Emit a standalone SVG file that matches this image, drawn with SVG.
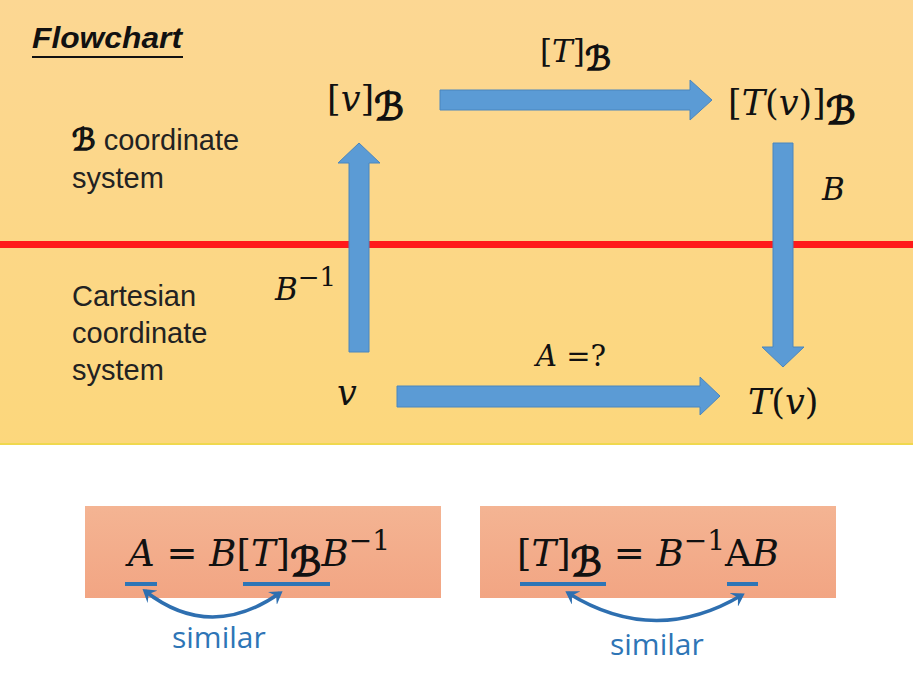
<svg xmlns="http://www.w3.org/2000/svg" width="913" height="686" viewBox="0 0 913 686">
<defs>
<linearGradient id="bg" x1="0" y1="0" x2="0" y2="1">
<stop offset="0" stop-color="#FCD793"/>
<stop offset="1" stop-color="#FCD77C"/>
</linearGradient>
<linearGradient id="box" x1="0" y1="0" x2="0" y2="1">
<stop offset="0" stop-color="#F4B493"/>
<stop offset="1" stop-color="#F2A583"/>
</linearGradient>
<marker id="ah" viewBox="0 0 10 10" refX="6" refY="5" markerWidth="4.5" markerHeight="4.5" orient="auto-start-reverse">
<path d="M0,0 L8,5 L0,10 L3,5 Z" fill="#2E6FB0"/>
</marker>
<style>
.lbl{font-family:"Liberation Sans",Arial,sans-serif;font-size:29px;fill:#222}
.m{font-family:"DejaVu Serif","Liberation Serif",serif;fill:#111}
.mi{font-style:italic}
.scr{font-family:"DejaVu Sans","DejaVu Serif",serif;font-style:italic;stroke:#111;stroke-width:1.5}
.arr{fill:#5B9BD5;stroke:#4A86BE;stroke-width:1}
.sim{font-family:"Open Sans","Liberation Sans",sans-serif;font-size:30px;fill:#2E75B6}
.ul{stroke:#2E75B6;stroke-width:4}
.cv{fill:none;stroke:#2E6FB0;stroke-width:3.5}
</style>
</defs>
<rect x="0" y="0" width="913" height="445" fill="url(#bg)"/>
<rect x="0" y="443" width="913" height="2" fill="#F0D84E"/>
<rect x="0" y="445" width="913" height="241" fill="#FFFFFF"/>
<rect x="0" y="241" width="913" height="7" fill="#FF1A1A"/>

<g id="title">
<text x="32" y="48" font-family="'Liberation Sans',Arial,sans-serif" font-size="29" font-weight="bold" font-style="italic" fill="#111" textLength="150" lengthAdjust="spacingAndGlyphs">Flowchart</text>
<rect x="32" y="56" width="151" height="2" fill="#111"/>
</g>
<g id="label-bcoord">
<text class="lbl" x="72" y="150"><tspan class="scr" font-size="30">ℬ</tspan> coordinate</text>
<text class="lbl" x="72" y="188">system</text>
</g>
<g id="label-cart">
<text class="lbl" x="72" y="306">Cartesian</text>
<text class="lbl" x="72" y="343">coordinate</text>
<text class="lbl" x="72" y="380">system</text>
</g>

<g id="connectors">
<polygon class="arr" points="349,352 349,163 338,163 359,143 380,163 369,163 369,352"/>
<polygon class="arr" points="440,90 690,90 690,80 712,100 690,120 690,110 440,110"/>
<polygon class="arr" points="773,143 793,143 793,347 804,347 783,367 762,347 773,347"/>
<polygon class="arr" points="397,386 700,386 700,377 720,396 700,415 700,407 397,407"/>
</g>

<g id="node-vB">
<text class="m" x="327" y="111" font-size="35">[<tspan class="mi">v</tspan>]<tspan class="scr" font-size="38" dy="9">ℬ</tspan></text>
</g>
<g id="node-TvB">
<text class="m" x="728" y="115" font-size="35">[<tspan class="mi">T</tspan>(<tspan class="mi">v</tspan>)]<tspan class="scr" font-size="38" dy="9">ℬ</tspan></text>
</g>
<g id="node-v">
<text class="m mi" x="337" y="405" font-size="35">v</text>
</g>
<g id="node-Tv">
<text class="m" x="748" y="414" font-size="35"><tspan class="mi">T</tspan>(<tspan class="mi">v</tspan>)</text>
</g>
<g id="label-TB">
<text class="m" x="540" y="62" font-size="31">[<tspan class="mi">T</tspan>]<tspan class="scr" font-size="33" dy="8">ℬ</tspan></text>
</g>
<g id="label-B">
<text class="m mi" x="822" y="200" font-size="31">B</text>
</g>
<g id="label-Binv">
<text class="m" x="275" y="300" font-size="31"><tspan class="mi">B</tspan><tspan font-size="26" dy="-14">−1</tspan></text>
</g>
<g id="label-A">
<text class="m" x="536" y="366" font-size="29"><tspan class="mi">A</tspan> =?</text>
</g>

<g id="box-left">
<rect x="85" y="506" width="356" height="92" fill="url(#box)"/>
<text class="m" x="128" y="566" font-size="37"><tspan class="mi">A</tspan> = <tspan class="mi">B</tspan>[<tspan class="mi">T</tspan>]<tspan class="scr" font-size="40" dy="10">ℬ</tspan><tspan class="mi" dy="-10">B</tspan><tspan font-size="28" dy="-16">−1</tspan></text>
<line class="ul" x1="125" y1="584" x2="157" y2="584"/>
<line class="ul" x1="243" y1="584" x2="330" y2="584"/>
<path class="cv" d="M145,591 Q210,642 280,593" marker-start="url(#ah)" marker-end="url(#ah)"/>
<text class="sim" x="172" y="648">similar</text>
</g>
<g id="box-right">
<rect x="480" y="506" width="356" height="92" fill="url(#box)"/>
<text class="m" x="517" y="566" font-size="37">[<tspan class="mi">T</tspan>]<tspan class="scr" font-size="40" dy="10">ℬ</tspan><tspan dy="-10"> = </tspan><tspan class="mi">B</tspan><tspan font-size="28" dy="-16">−1</tspan><tspan dy="16">A</tspan><tspan class="mi">B</tspan></text>
<line class="ul" x1="520" y1="584" x2="606" y2="584"/>
<line class="ul" x1="727" y1="584" x2="758" y2="584"/>
<path class="cv" d="M568,593 Q655,647 742,595" marker-start="url(#ah)" marker-end="url(#ah)"/>
<text class="sim" x="610" y="655">similar</text>
</g>
</svg>
